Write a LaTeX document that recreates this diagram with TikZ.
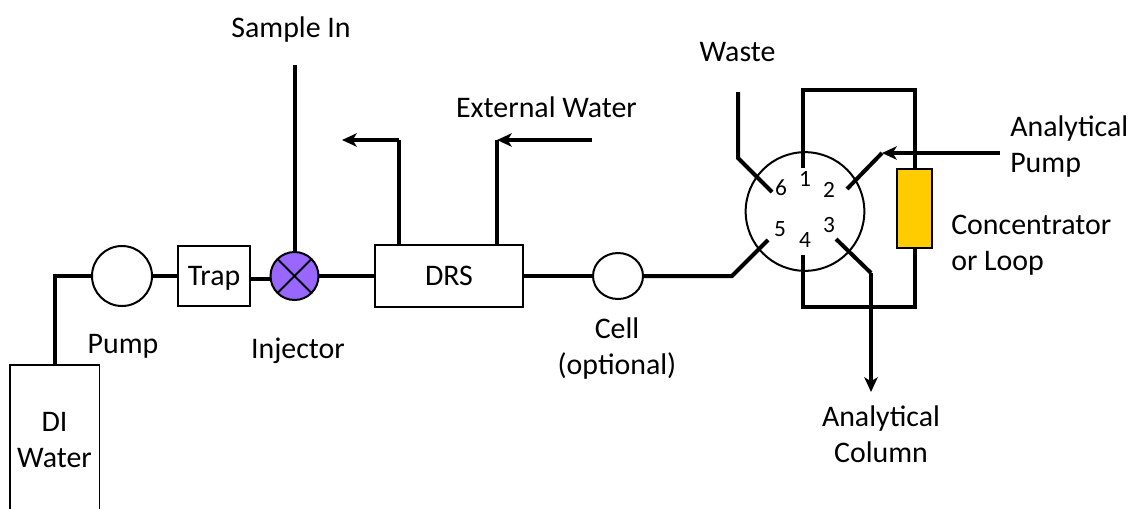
\documentclass[tikz,border=0pt]{standalone}
\usepackage{fontspec}
\setmainfont{Carlito}
\usepackage{tikz}
\usetikzlibrary{positioning, arrows.meta, shapes.geometric}

\definecolor{injectorfill}{HTML}{9966FF}
\definecolor{loopfill}{HTML}{FFCC00}

\tikzset{
  pipe/.style={line width=3pt, line join=miter},
  flow/.style={line width=2.6pt, -{Stealth[length=11pt, width=10pt, inset=3pt]}},
  unit/.style={draw, line width=1.5pt, inner sep=0pt, outer sep=0pt},
  round unit/.style={unit, circle},
  label text/.style={font=\fontsize{22.4}{27}\selectfont, align=left, inner sep=0pt},
  port num/.style={font=\fontsize{17.5}{20}\selectfont, inner sep=0pt}
}

\begin{document}
\begin{tikzpicture}[x=0.75pt, y=-0.75pt]
    \useasboundingbox (0,0) rectangle (1130,508);

    % Units along the main line
    \node[unit, line width=1pt, minimum width=67pt, minimum height=112.5pt, label text, align=center] (water) at (54.5,440) {DI\\Water};
    \node[round unit, minimum size=45pt] (pump) at (122,276) {};
    \node[unit, minimum width=54pt, minimum height=45.5pt, label text, text depth=0pt] (trap) at (214,276) {Trap};
    \node[round unit, minimum size=36pt, fill=injectorfill] (injector) at (294.5,276) {};
    \node[unit, minimum width=111pt, minimum height=46.5pt, label text] (drs) at (449,276) {DRS};
    \node[unit, ellipse, minimum width=37.5pt, minimum height=34.5pt] (cell) at (618,276) {};

    % Valve and concentrator
    \node[round unit, minimum size=89pt] (valve) at (805,211.5) {};
    \node[unit, fill=loopfill, minimum width=26pt, minimum height=59pt] (loop) at (914.5,208.5) {};

    % Valve port numbers
    \foreach \i/\x/\y in {1/805/179, 2/829/190, 3/829/225, 4/805/240, 5/780/229, 6/781/188} {
      \node[port num] (num\i) at (\x,\y) {\i};
    }

    % Corners and free ends
    \foreach \n/\x/\y in {waterup/55/276, samplein/294.5/65, wasteout/342/140, wasteup/399/140, drswater/497/140, extwater/592/140,
        pfivein/732/276, pfive/768/240, wastetop/738/92, psixbend/738/158, psix/772/192,
        pone/803/168, oneup/803/90, loopup/914.5/90, pfour/803/255, fourdown/803/307, loopdown/914.5/307,
        ptwoin/847/189, ptwo/882/153, anapump/1000/153, pthree/836/239, threebend/871/273, column/871/392} {
      \coordinate (\n) at (\x,\y);
    }

    % Main line
    \draw[pipe] (water.north -| waterup) -- (waterup) -- (pump.west);
    \draw[pipe] (pump.east) -- (trap.west);
    \draw[pipe] ([yshift=-2pt]trap.east) -- ([yshift=-2pt]injector.west);
    \draw[pipe] (injector.east) -- (drs.west);
    \draw[pipe] (drs.east) -- (cell.west);
    \draw[pipe] (cell.east) -- (pfivein) -- (pfive);
    \draw[pipe] (samplein) -- (injector.north);

    % Injector cross
    \draw[line width=1.5pt] (injector.north west) -- (injector.south east);
    \draw[line width=1.5pt] (injector.north east) -- (injector.south west);

    % DRS water
    \draw[pipe] (drs.north -| wasteup) -- (wasteup);
    \draw[flow] (wasteup) -- (wasteout);
    \draw[pipe] (drs.north -| drswater) -- (drswater);
    \draw[flow] (extwater) -- (drswater);

    % Valve plumbing
    \draw[pipe] (wastetop) -- (psixbend) -- (psix);
    \draw[pipe] (pone) -- (oneup) -- (loopup) -- (loop.north);
    \draw[pipe] (pfour) -- (fourdown) -- (loopdown) -- (loop.south);
    \draw[pipe] (ptwoin) -- (ptwo);
    \draw[flow] (anapump) -- (ptwo);
    \draw[pipe] (pthree) -- (threebend);
    \draw[flow] (threebend) -- (column);

    % Labels
    \node[label text] (samplelabel) at (291,30) {Sample In};
    \node[label text] (wastelabel) at (737.5,52) {Waste};
    \node[label text] (extlabel) at (546.5,107) {External Water};
    \node[label text, anchor=west] (pumplabel) at (1010,146.5) {Analytical\\Pump};
    \node[label text, anchor=west] (looplabel) at (951,245) {Concentrator\\or Loop};
    \node[label text] (pumpname) at (123,346) {Pump};
    \node[label text] (injlabel) at (298,351) {Injector};
    \node[label text, align=center] (celllabel) at (617,349) {Cell\\(optional)};
    \node[label text, align=center] (columnlabel) at (881,434.5) {Analytical\\Column};
\end{tikzpicture}
\end{document}
